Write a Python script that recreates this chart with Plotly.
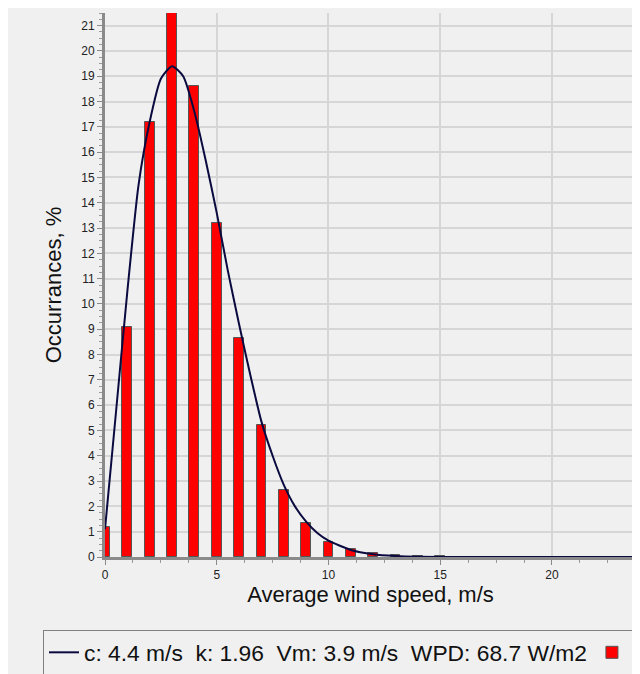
import plotly.graph_objects as go

# Histogram of wind speed occurrences (%), bins centred on integer speeds
speed_bins = list(range(0, 24))
occurrence_pct = [1.2, 9.1, 17.2, 21.5, 18.6, 13.2, 8.65, 5.2, 2.65, 1.35,
                  0.61, 0.32, 0.17, 0.09, 0.03, 0.03, 0.015, 0.015, 0.015, 0.015,
                  0.015, 0.015, 0.015, 0.015]

# Fitted Weibull curve
curve_speed = [0, 0.5, 1, 1.5, 2, 2.5, 3, 3.5, 4, 4.5, 5, 5.5, 6, 6.5, 7, 7.5,
               8, 8.5, 9, 9.5, 10, 11, 12, 13, 14, 16, 18, 20, 22, 23.8]
curve_pct = [1.1, 5.8, 10.5, 14.7, 17.2, 18.9, 19.4, 19.0, 17.6, 15.7, 13.6,
             11.3, 9.2, 7.2, 5.35, 4.0, 2.85, 2.0, 1.4, 0.95, 0.65, 0.28, 0.11,
             0.04, 0.01, 0, 0, 0, 0, 0]

legend_text = "c: 4.4 m/s  k: 1.96  Vm: 3.9 m/s  WPD: 68.7 W/m2"
x_title = "Average wind speed, m/s"
y_title = "Occurrances, %"

# page has an 8px body margin; figure fills the rest of the 640x674 window
W, H = 632, 666
L, R, T, B = 97, 4, 5, 117
pw, ph = W - L - R, H - T - B

def px_x(p):
    return (p - L) / pw

def px_y(p):
    return (H - B - p) / ph

FONT = "Liberation Sans, Arial, sans-serif"

fig = go.Figure()
fig.add_trace(go.Bar(
    x=speed_bins, y=occurrence_pct, width=0.44, name="",
    marker=dict(color="#ff0000", line=dict(color="#555555", width=1)),
    legendrank=2, showlegend=True,
))
fig.add_trace(go.Scatter(
    x=curve_speed, y=curve_pct, mode="lines", name=legend_text,
    line=dict(color="#0a0a40", width=2, shape="spline", smoothing=0.6),
    legendrank=1,
))

fig.update_layout(
    width=W, height=H,
    margin=dict(l=L, r=R, t=T, b=B, pad=0, autoexpand=False),
    paper_bgcolor="#f0f0f0", plot_bgcolor="#f0f0f0",
    font=dict(family=FONT, size=12, color="#222222"),
    bargap=0,
    showlegend=True,
    legend=dict(
        orientation="h", x=px_x(35), y=px_y(622), xanchor="left", yanchor="top",
        bgcolor="#f0f0f0", bordercolor="#808080", borderwidth=1,
        font=dict(family=FONT, size=22.8, color="#111111"),
        traceorder="normal", tracegroupgap=0,
    ),
    xaxis=dict(
        range=[0, 23.76], tickmode="linear", tick0=0, dtick=5, automargin=False,
        showgrid=True, gridcolor="#d6d6d6", gridwidth=2,
        showline=True, linecolor="#8a8a8a", linewidth=3,
        ticks="outside", ticklen=5, tickcolor="#8a8a8a",
        minor=dict(dtick=1.25, ticklen=3, tickcolor="#9a9a9a", ticks="outside", showgrid=False),
        zeroline=False,
        tickfont=dict(size=12, color="#222222"),
        title=dict(text=x_title, font=dict(size=22, color="#111111"), standoff=6),
    ),
    yaxis=dict(
        range=[0, 21.5], tickmode="linear", tick0=0, dtick=1, automargin=False,
        showgrid=True, gridcolor="#d6d6d6", gridwidth=2,
        showline=True, linecolor="#8a8a8a", linewidth=3,
        ticks="outside", ticklen=5, tickcolor="#8a8a8a",
        minor=dict(dtick=0.25, ticklen=3, tickcolor="#9a9a9a", ticks="outside", showgrid=False),
        zeroline=False,
        tickfont=dict(size=12, color="#222222"),
        title=dict(text=y_title, font=dict(size=22, color="#111111"), standoff=14),
    ),
)

fig.write_html("out.html")
